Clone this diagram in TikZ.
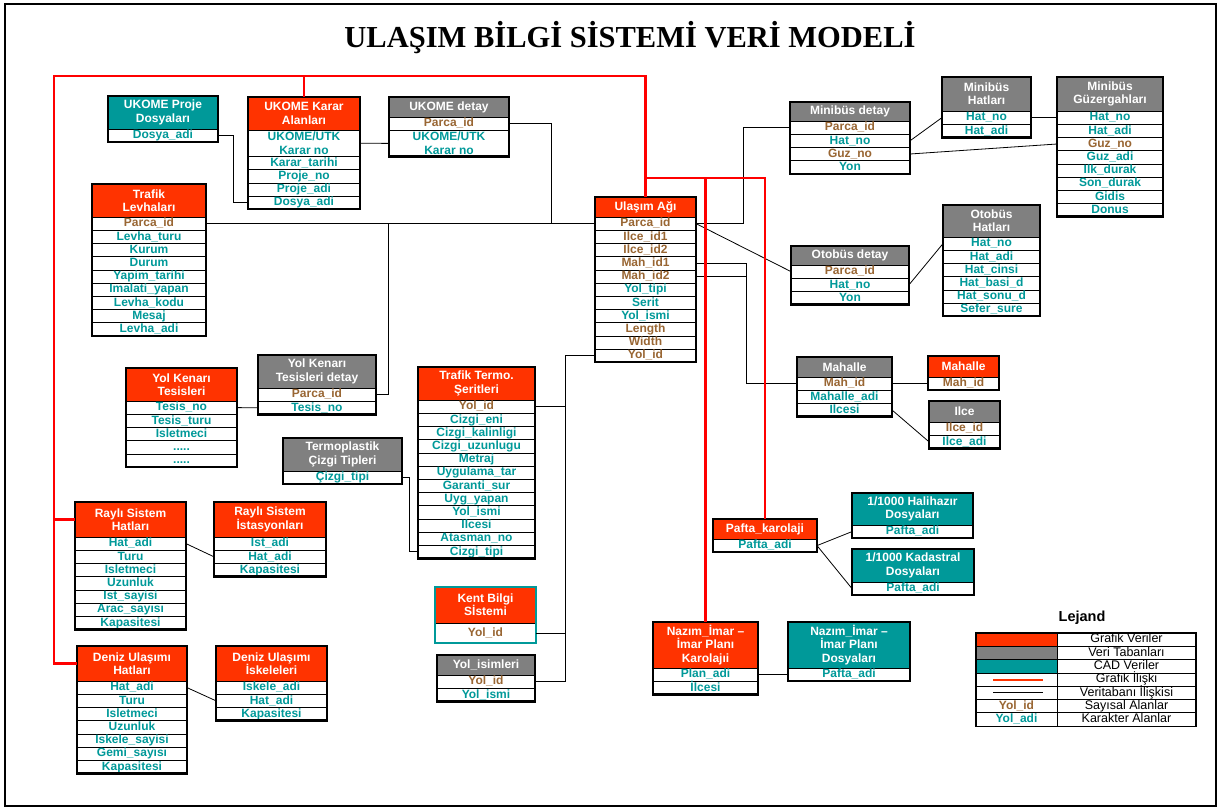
\documentclass[tikz,border=0pt]{standalone}
\usepackage{fontspec}
\setmainfont{Liberation Serif}
\setsansfont{Liberation Sans}
\usetikzlibrary{positioning}
\definecolor{grafred}{RGB}{255,51,0}
\definecolor{relred}{RGB}{255,0,0}
\definecolor{dbgray}{RGB}{128,128,128}
\definecolor{cadteal}{RGB}{0,153,153}
\definecolor{numbrown}{RGB}{153,102,51}
\newcommand{\fieldfont}{\sffamily\bfseries\fontsize{12}{13.4}\selectfont}
\newcommand{\legfont}{\sffamily\fontsize{12.5}{14}\selectfont}

% table: name, left, top, width, header fill, header text, header height, rows
\newcommand{\dbtable}[8]{%
  \node[hdr,#5,minimum width=#4pt,minimum height=#7pt,anchor=north west] (#1-0) at (#2,#3) {#6};
  \foreach \st/\txt [count=\i] in {#8}{%
    \pgfmathtruncatemacro{\prev}{\i-1}%
    \node[\st,minimum width=#4pt,below=0pt of #1-\prev] (#1-\i) {\txt};
    \xdef\lastrow{\i}%
  }
  \draw[tblframe] (#1-0.north west) rectangle (#1-\lastrow.south east);
}

\begin{document}
\begin{tikzpicture}[x=1pt,y=-1pt,
  fld/.style={draw=black,line width=0.6pt,fill=white,inner sep=0pt,outer sep=0pt,
    minimum height=13.2pt,font=\fieldfont,text height=8.8pt,text depth=2.4pt,align=center},
  num/.style={fld,text=numbrown},
  chr/.style={fld,text=cadteal},
  chr2/.style={chr,minimum height=26.4pt,text height=,text depth=},
  numk/.style={num,minimum height=20pt},
  hdr/.style={draw=black,line width=0.6pt,inner sep=0pt,outer sep=0pt,
    font=\fieldfont,text=white,align=center},
  gfx/.style={fill=grafred},
  vtb/.style={fill=dbgray},
  cad/.style={fill=cadteal},
  tblframe/.style={line width=2.4pt},
  dbrel/.style={draw=black,line width=0.8pt},
  gfxrel/.style={draw=relred,line width=2.6pt},
  lgcell/.style={draw=black,line width=0.8pt,minimum width=81pt,minimum height=13.3pt,
    inner sep=0pt,outer sep=0pt},
  lgtext/.style={draw=black,line width=0.8pt,minimum width=139pt,minimum height=13.3pt,
    inner sep=0pt,outer sep=0pt,font=\legfont,text height=8.8pt,text depth=2.4pt}]
\useasboundingbox (0,0) rectangle (1220,811);
\draw[line width=1.6pt] (5,4) rectangle (1216,806);

\node[font=\rmfamily\bfseries\fontsize{30.5}{34}\selectfont] (title) at (630,38) {ULAŞIM BİLGİ SİSTEMİ VERİ MODELİ};

% UKOME group
\dbtable{ukp}{108}{96}{110}{cad}{UKOME Proje\\Dosyaları}{33}{chr/Dosya\_adi}
\dbtable{ukk}{248}{97}{112}{gfx}{UKOME Karar\\Alanları}{33}{chr2/{UKOME/UTK\\Karar no},chr/Karar\_tarihi,chr/Proje\_no,chr/Proje\_adi,chr/Dosya\_adi}
\dbtable{ukd}{389}{97}{120}{vtb}{UKOME detay}{20}{num/Parca\_id,chr2/{UKOME/UTK\\Karar no}}

% road network and left tables
\dbtable{trl}{92}{184}{114}{gfx}{Trafik\\Levhaları}{33}{num/Parca\_id,chr/Levha\_turu,chr/Kurum,chr/Durum,chr/Yapim\_tarihi,chr/Imalati\_yapan,chr/Levha\_kodu,chr/Mesaj,chr/Levha\_adi}
\dbtable{ua}{595}{197}{101}{gfx}{Ulaşım Ağı}{20}{num/Parca\_id,num/Ilce\_id1,num/Ilce\_id2,num/Mah\_id1,num/Mah\_id2,chr/Yol\_tipi,chr/Serit,chr/Yol\_ismi,num/Length,num/Width,num/Yol\_id}
\dbtable{ykd}{258}{355}{118}{vtb}{Yol Kenarı\\Tesisleri detay}{33}{num/Parca\_id,chr/Tesis\_no}
\dbtable{ykt}{126}{368}{111}{gfx}{Yol Kenarı\\Tesisleri}{33}{chr/Tesis\_no,chr/Tesis\_turu,chr/Isletmeci,chr/{.....},chr/{.....}}
\dbtable{tcz}{283}{438}{119}{vtb}{Termoplastik\\Çizgi Tipleri}{33}{chr/Çizgi\_tipi}
\dbtable{tts}{418}{367}{117}{gfx}{Trafik Termo.\\Şeritleri}{33}{num/Yol\_id,chr/Cizgi\_eni,chr/Cizgi\_kalinligi,chr/Cizgi\_uzunlugu,chr/Metraj,chr/Uygulama\_tar,chr/Garanti\_sur,chr/Uyg\_yapan,chr/Yol\_ismi,chr/Ilcesi,chr/Atasman\_no,chr/Cizgi\_tipi}
\dbtable{rsh}{75}{502}{111}{gfx}{Raylı Sistem\\Hatları}{35}{chr/Hat\_adi,chr/Turu,chr/Isletmeci,chr/Uzunluk,chr/Ist\_sayisi,chr/Arac\_sayısı,chr/Kapasitesi}
\dbtable{rsi}{214}{502}{112}{gfx}{Raylı Sistem\\İstasyonları}{35}{chr/Ist\_adi,chr/Hat\_adi,chr/Kapasitesi}
\dbtable{duh}{77}{646}{110}{gfx}{Deniz Ulaşımı\\Hatları}{35}{chr/Hat\_adi,chr/Turu,chr/Isletmeci,chr/Uzunluk,chr/Iskele\_sayisi,chr/Gemi\_sayısı,chr/Kapasitesi}
\dbtable{dui}{216}{646}{111}{gfx}{Deniz Ulaşımı\\İskeleleri}{35}{chr/Iskele\_adi,chr/Hat\_adi,chr/Kapasitesi}
\dbtable{kbs}{435}{587}{101}{gfx}{Kent Bilgi\\Sİstemi}{36}{numk/Yol\_id}
\draw[tblframe,draw=cadteal] (kbs-0.north west) rectangle (kbs-1.south east);
\dbtable{yis}{437}{655}{98}{vtb}{Yol\_isimleri}{20}{num/Yol\_id,chr/Yol\_ismi}

% right side
\dbtable{mbd}{790}{102}{120}{vtb}{Minibüs detay}{19}{num/Parca\_id,chr/Hat\_no,num/Guz\_no,chr/Yon}
\dbtable{mbh}{942}{77}{89}{vtb}{Minibüs\\Hatları}{34}{chr/Hat\_no,chr/Hat\_adi}
\dbtable{mbg}{1057}{77}{106}{vtb}{Minibüs\\Güzergahları}{34}{chr/Hat\_no,chr/Hat\_adi,num/Guz\_no,chr/Guz\_adi,chr/Ilk\_durak,chr/Son\_durak,chr/Gidis,chr/Donus}
\dbtable{obd}{791}{246}{118}{vtb}{Otobüs detay}{19}{num/Parca\_id,chr/Hat\_no,chr/Yon}
\dbtable{obh}{943}{205}{97}{vtb}{Otobüs\\Hatları}{32}{chr/Hat\_no,chr/Hat\_adi,chr/Hat\_cinsi,chr/Hat\_basi\_d,chr/Hat\_sonu\_d,chr/Sefer\_sure}
\dbtable{mah}{797}{357}{95}{vtb}{Mahalle}{20}{num/Mah\_id,chr/Mahalle\_adi,chr/Ilcesi}
\dbtable{mahr}{928}{356}{71}{gfx}{Mahalle}{21}{num/Mah\_id}
\dbtable{ilce}{929}{401}{71}{vtb}{Ilce}{21}{num/Ilce\_id,chr/Ilce\_adi}
\dbtable{pk}{713}{519}{104}{gfx}{Pafta\_karolaji}{20}{chr/Pafta\_adi}
\dbtable{hh}{852}{493}{121}{cad}{1/1000 Halihazır\\Dosyaları}{32}{chr/Pafta\_adi}
\dbtable{kd}{852}{549}{122}{cad}{1/1000 Kadastral\\Dosyaları}{33}{chr/Pafta\_adi}
\dbtable{nik}{653}{622}{105}{gfx}{Nazım\_İmar –\\İmar Planı\\Karolajıi}{46}{chr/Plan\_adi,chr/İlcesi}
\dbtable{nid}{788}{622}{122}{cad}{Nazım\_İmar –\\İmar Planı\\Dosyaları}{46}{chr/Pafta\_adi}

% database relations
\draw[dbrel] (ukp-1.east) -- ++(15,0) |- (ukk-5.west);
\draw[dbrel] (ukk-1.east) -- (ukd-2.west);
\draw[dbrel] (ukd-1.east) -- ++(42,0) |- (ua-1.west);
\draw[dbrel] (trl-1.east) -- (ua-1.west);
\draw[dbrel] (ykd-1.east) -- ++(12,0) |- (ua-1.west);
\draw[dbrel] (ykt-1.east) -- (ykd-2.west);
\draw[dbrel] (ua-11.west) -- ++(-30,0) coordinate (ybus) |- (yis-1.east);
\draw[dbrel] (tts-1.east) -- (tts-1.east -| ybus);
\draw[dbrel] (kbs-1.east) -- (kbs-1.east -| ybus);
\draw[dbrel] (tcz-1.east) -- ++(7,0) |- (tts-12.west);
\draw[dbrel] (rsh-1.east) -- (rsi-2.west);
\draw[dbrel] (duh-1.east) -- (dui-2.west);
\draw[dbrel] (ua-1.east) -- ++(47,0) |- (mbd-1.west);
\draw[dbrel] (ua-1.east) -- (obd-1.west);
\draw[dbrel] (ua-4.east) -- ++(50,0) coordinate (mahbus) |- (mah-1.west);
\draw[dbrel] (ua-5.east) -- (ua-5.east -| mahbus);
\draw[dbrel] (mbd-2.east) -- (mbh-1.west);
\draw[dbrel] (mbh-1.east) -- (mbg-1.west);
\draw[dbrel] (mbd-3.east) -- (mbg-3.west);
\draw[dbrel] (obd-2.east) -- (obh-1.west);
\draw[dbrel] (mah-1.east) -- (mahr-1.west);
\draw[dbrel] (mah-3.east) -- (ilce-2.west);
\draw[dbrel] (pk-1.east) -- (hh-1.west);
\draw[dbrel] (pk-1.east) -- (kd-1.west);
\draw[dbrel] (nik-1.east) -- (nid-1.west);

% graphic relations
\coordinate (rcorner) at (54,76);
\coordinate (rsplit) at (645.5,178);
\draw[gfxrel] (duh-0.west) -| (rcorner) -| (ua-0.north);
\draw[gfxrel] (rsh-0.west) -- (rsh-0.west -| rcorner);
\draw[gfxrel] (ukk-0.north) -- (ukk-0.north |- rcorner);
\draw[gfxrel] (rsplit) -| (pk-0.north);
\draw[gfxrel] (nik-0.north) -- (nik-0.north |- rsplit);

% legend
\node[font=\sffamily\bfseries\fontsize{14.5}{16}\selectfont] (lejand) at (1082,618) {Lejand};
\node[lgcell,fill=grafred,anchor=north west] (lg1) at (976,633) {};
\node[lgcell,fill=dbgray,below=0pt of lg1] (lg2) {};
\node[lgcell,fill=cadteal,below=0pt of lg2] (lg3) {};
\node[lgcell,below=0pt of lg3] (lg4) {};
\node[lgcell,below=0pt of lg4] (lg5) {};
\node[lgcell,below=0pt of lg5,font=\fieldfont,text=numbrown,text height=8.8pt,text depth=2.4pt] (lg6) {Yol\_id};
\node[lgcell,below=0pt of lg6,font=\fieldfont,text=cadteal,text height=8.8pt,text depth=2.4pt] (lg7) {Yol\_adi};
\node[lgtext,right=0pt of lg1] (lgt1) {Grafik Veriler};
\node[lgtext,right=0pt of lg2] (lgt2) {Veri Tabanları};
\node[lgtext,right=0pt of lg3] (lgt3) {CAD Veriler};
\node[lgtext,right=0pt of lg4] (lgt4) {Grafik İlişki};
\node[lgtext,right=0pt of lg5] (lgt5) {Veritabanı İlişkisi};
\node[lgtext,right=0pt of lg6] (lgt6) {Sayısal Alanlar};
\node[lgtext,right=0pt of lg7] (lgt7) {Karakter Alanlar};
\draw[draw=grafred,line width=2pt,shorten <=17pt,shorten >=14pt] (lg4.west) -- (lg4.east);
\draw[draw=black,line width=0.8pt,shorten <=17pt,shorten >=14pt] (lg5.west) -- (lg5.east);
\draw[line width=1.2pt] (lg1.north west) rectangle (lgt7.south east);
\end{tikzpicture}
\end{document}
